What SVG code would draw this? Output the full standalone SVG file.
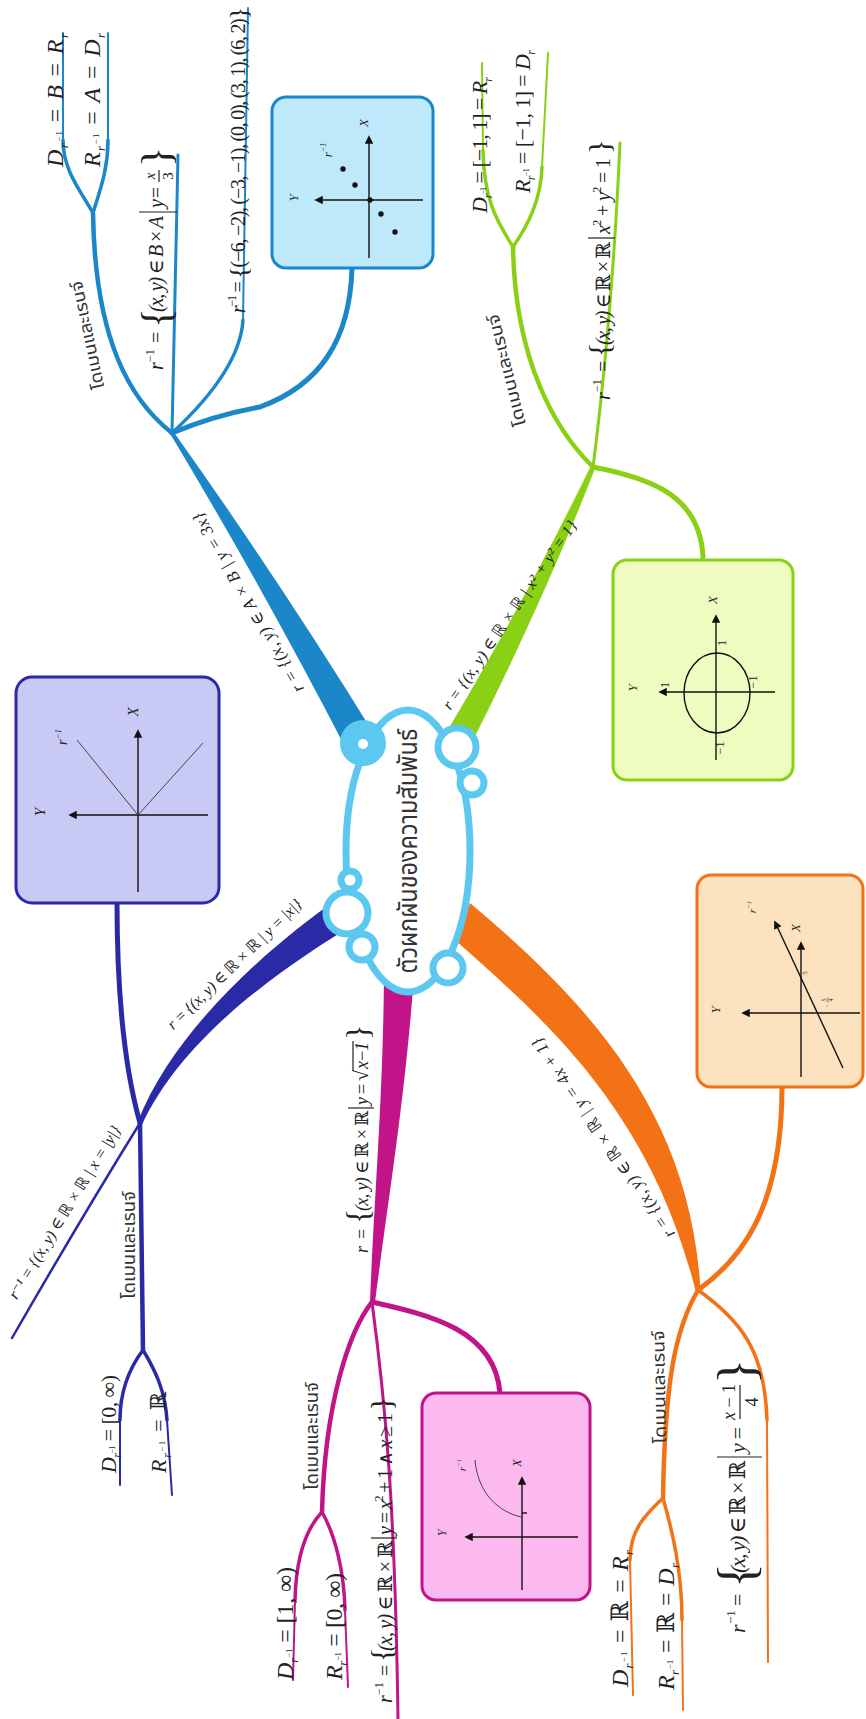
<svg xmlns="http://www.w3.org/2000/svg" width="866" height="1719" viewBox="0 0 866 1719">
<defs>
<style>
.m{font-family:"Liberation Serif","DejaVu Serif","DejaVu Sans",serif;fill:#222}
.i{font-style:italic}
.th{font-family:"Noto Sans Thai","Noto Looped Thai","Loma","Garuda","Tlwg Typo","DejaVu Sans",sans-serif;fill:#333}
.ax{stroke:#111;stroke-width:1.4;fill:none}
.cv{stroke:#444;stroke-width:1;fill:none}
.cn{fill:none;stroke-linecap:round;stroke-linejoin:round}
.bl{stroke:#1b87c9}.gr{stroke:#8ad014}.or{stroke:#f47216}.mg{stroke:#c01488}.ig{stroke:#2a2aa6}
.fr{stroke:#222;stroke-width:1.2}
.ck{fill:#fff;stroke:#5cc8f0;stroke-width:7}
</style>
<marker id="ar" viewBox="0 0 10 10" refX="8" refY="5" markerWidth="6" markerHeight="6" orient="auto"><path d="M0,0L10,5L0,10z" fill="#111"/></marker>
</defs>
<rect width="866" height="1719" fill="#fff"/>

<g id="connectors">
  <!-- blue -->
  <path fill="#1b87c9" d="M375.7,736.7 Q279.8,581.2 173.7,432 L170.3,434 Q264.4,590.5 348.3,753.3Z"/>
  <path class="cn bl" stroke-width="4.5" d="M172,433 C130,400 95,340 93,213"/>
  <path class="cn bl" stroke-width="3.5" d="M93,213 C80,190 63,170 63,140"/>
  <path class="cn bl" stroke-width="2" d="M63,140 L63,33"/>
  <path class="cn bl" stroke-width="3.5" d="M93,213 C100,190 108,170 108,140"/>
  <path class="cn bl" stroke-width="2" d="M108,140 L108,33"/>
  <path class="cn bl" stroke-width="3" d="M172,433 L178,155"/>
  <path class="cn bl" stroke-width="3.5" d="M172,433 Q240,370 243,320"/>
  <path class="cn bl" stroke-width="2" d="M243,320 L248,8"/>
  <path class="cn bl" stroke-width="5" d="M172,433 Q215,415 260,407 C320,385 350,340 352,268"/>
  <!-- green -->
  <path fill="#8ad014" d="M467.5,751.3 Q542.5,603.3 595.2,468.1 L590.8,465.9 Q527.8,595.9 442.5,738.7Z"/>
  <path class="cn gr" stroke-width="4.5" d="M593,467 C555,430 515,360 513,247"/>
  <path class="cn gr" stroke-width="3.5" d="M513,247 C500,225 484,205 483,150"/>
  <path class="cn gr" stroke-width="2" d="M483,150 L482,63"/>
  <path class="cn gr" stroke-width="3.5" d="M513,247 C528,225 541,200 542,167"/>
  <path class="cn gr" stroke-width="2" d="M542,167 L548,53"/>
  <path class="cn gr" stroke-width="3" d="M593,467 Q612,320 620,143"/>
  <path class="cn gr" stroke-width="5" d="M593,467 C650,478 700,495 703,557"/>
  <!-- orange -->
  <path fill="#f47216" d="M455,940 C545,1020 650,1110 695.5,1290.4 L700.5,1289.6 C690,1110 585,1000 470,903Z"/>
  <path class="cn or" stroke-width="5" d="M698,1290 C740,1260 782,1210 782,1087"/>
  <path class="cn or" stroke-width="4.5" d="M698,1290 C675,1330 665,1380 663,1498"/>
  <path class="cn or" stroke-width="3.5" d="M663,1498 C645,1515 630,1530 630,1560"/>
  <path class="cn or" stroke-width="2" d="M630,1560 L633,1695"/>
  <path class="cn or" stroke-width="3.5" d="M663,1498 C672,1530 682,1570 682,1620"/>
  <path class="cn or" stroke-width="2" d="M682,1620 L683,1710"/>
  <path class="cn or" stroke-width="3.5" d="M698,1290 C740,1320 765,1350 767,1420"/>
  <path class="cn or" stroke-width="2" d="M767,1420 L768,1662"/>
  <!-- magenta -->
  <path fill="#c01488" d="M384,975 C383,1100 374,1200 370,1302 L375,1302 C388,1200 405,1100 414,975Z"/>
  <path class="cn mg" stroke-width="5" d="M372,1302 C430,1315 495,1330 500,1393"/>
  <path class="cn mg" stroke-width="4.5" d="M372,1302 C350,1330 325,1400 322,1512"/>
  <path class="cn mg" stroke-width="3.5" d="M322,1512 C305,1530 296,1560 295,1600"/>
  <path class="cn mg" stroke-width="2" d="M295,1600 L293,1680"/>
  <path class="cn mg" stroke-width="3.5" d="M322,1512 C335,1535 344,1570 345,1610"/>
  <path class="cn mg" stroke-width="2" d="M345,1610 L348,1687"/>
  <path class="cn mg" stroke-width="3" d="M372,1302 C385,1400 395,1500 398,1719"/>
  <!-- indigo -->
  <path fill="#2a2aa6" d="M336.7,899.5 C272.8,944.2 174.5,1027.6 137.7,1122 L142.3,1124 C185.5,1032.4 287.2,965.8 353.3,924.5Z"/>
  <path class="cn ig" stroke-width="2.5" d="M140,1123 Q80,1220 12,1338"/>
  <path class="cn ig" stroke-width="5" d="M140,1123 C125,1070 117,1000 117,902"/>
  <path class="cn ig" stroke-width="4.5" d="M140,1123 L143,1350"/>
  <path class="cn ig" stroke-width="3.5" d="M143,1350 C128,1370 120,1395 120,1420"/>
  <path class="cn ig" stroke-width="2" d="M120,1420 L120,1485"/>
  <path class="cn ig" stroke-width="3.5" d="M143,1350 C155,1370 165,1390 167,1420"/>
  <path class="cn ig" stroke-width="2" d="M167,1420 L172,1495"/>
</g>

<!-- branch labels -->
<g id="label-blue-r"><text class="m i" font-size="17" text-anchor="middle" textLength="205" lengthAdjust="spacing" transform="translate(253,600) rotate(-120)">r = {(x, y) ∈ A × B | y = 3x}</text></g>
<g id="label-green-r"><text class="m i" font-size="16" text-anchor="middle" textLength="225" lengthAdjust="spacing" transform="translate(514,618) rotate(-55.6)">r = {(x, y) ∈ ℝ × ℝ | x² + y² = 1}</text></g>
<g id="label-orange-r"><text class="m i" font-size="17" text-anchor="middle" textLength="239" lengthAdjust="spacing" transform="translate(608,1135) rotate(-124.4)">r = {(x, y) ∈ ℝ × ℝ | y = 4x + 1}</text></g>
<g id="label-indigo-r"><text class="m i" font-size="16" text-anchor="middle" textLength="180" lengthAdjust="spacing" transform="translate(238,968) rotate(-44)">r = {(x, y) ∈ ℝ × ℝ | y = |x|}</text></g>
<g id="label-indigo-inv"><text class="m i" font-size="16" text-anchor="middle" textLength="200" lengthAdjust="spacing" transform="translate(69,1215) rotate(-58.5)">r⁻¹ = {(x, y) ∈ ℝ × ℝ | x = |y|}</text></g>

<g id="label-magenta-r" transform="translate(368,1253) rotate(-90)">
  <text class="m i" font-size="18" x="0">r</text>
  <text class="m" font-size="18" x="14">=</text>
  <text class="m" font-size="32" x="29" y="1">{</text>
  <text class="m" font-size="18" x="42" textLength="100" lengthAdjust="spacing"><tspan font-style="italic">(x, y)</tspan> ∈ ℝ × ℝ</text>
  <line class="fr" x1="145" y1="-20" x2="145" y2="6"/>
  <text class="m i" font-size="18" x="148" textLength="22" lengthAdjust="spacing">y =</text>
  <text class="m" font-size="20" x="172">√</text>
  <text class="m i" font-size="18" x="184" textLength="27" lengthAdjust="spacing">x − 1</text>
  <line class="fr" x1="182" y1="-15" x2="212" y2="-15"/>
  <text class="m" font-size="32" x="213" y="1">}</text>
</g>

<!-- Thai labels -->
<g id="dr-blue"><text class="th" font-size="17" text-anchor="middle" textLength="110" lengthAdjust="spacingAndGlyphs" transform="translate(93,334) rotate(-102)">โดเมนและเรนจ์</text></g>
<g id="dr-green"><text class="th" font-size="17" text-anchor="middle" textLength="115" lengthAdjust="spacingAndGlyphs" transform="translate(512,369) rotate(-104)">โดเมนและเรนจ์</text></g>
<g id="dr-orange"><text class="th" font-size="17" text-anchor="middle" textLength="113" lengthAdjust="spacingAndGlyphs" transform="translate(665,1387) rotate(-91)">โดเมนและเรนจ์</text></g>
<g id="dr-magenta"><text class="th" font-size="17" text-anchor="middle" textLength="108" lengthAdjust="spacingAndGlyphs" transform="translate(318,1436) rotate(-90)">โดเมนและเรนจ์</text></g>
<g id="dr-indigo"><text class="th" font-size="17" text-anchor="middle" textLength="108" lengthAdjust="spacingAndGlyphs" transform="translate(135,1245) rotate(-90)">โดเมนและเรนจ์</text></g>

<!-- blue leaves -->
<g id="blue-D" transform="translate(63,167) rotate(-90)"><text class="m i" font-size="24" textLength="134" lengthAdjust="spacing">D<tspan font-size="13" dy="5">r</tspan><tspan font-size="9" dy="-6" font-style="normal">−1</tspan><tspan dy="1" font-style="normal"> = </tspan>B<tspan font-style="normal"> = </tspan>R<tspan font-size="13" dy="5">r</tspan></text></g>
<g id="blue-R" transform="translate(100,167) rotate(-90)"><text class="m i" font-size="24" textLength="134" lengthAdjust="spacing">R<tspan font-size="13" dy="5">r</tspan><tspan font-size="9" dy="-6" font-style="normal">−1</tspan><tspan dy="1" font-style="normal"> = </tspan>A<tspan font-style="normal"> = </tspan>D<tspan font-size="13" dy="5">r</tspan></text></g>
<g id="blue-inv" transform="translate(163,370) rotate(-90)">
  <text class="m i" font-size="20" x="0">r</text>
  <text class="m" font-size="12" x="8" y="-9">−1</text>
  <text class="m" font-size="20" x="27">=</text>
  <text class="m" font-size="42" x="42" y="7">{</text>
  <text class="m" font-size="20" x="58" textLength="96" lengthAdjust="spacing"><tspan font-style="italic">(x, y)</tspan> ∈ <tspan font-style="italic">B</tspan> × <tspan font-style="italic">A</tspan></text>
  <line class="fr" x1="158" y1="-24" x2="158" y2="14"/>
  <text class="m i" font-size="20" x="162" textLength="22" lengthAdjust="spacing">y =</text>
  <text class="m i" font-size="15" x="194" y="-8" text-anchor="middle">x</text>
  <line class="fr" x1="188" y1="-4" x2="200" y2="-4"/>
  <text class="m" font-size="15" x="194" y="10" text-anchor="middle">3</text>
  <text class="m" font-size="42" x="203" y="7">}</text>
</g>
<g id="blue-set" transform="translate(245,313) rotate(-90)"><text class="m" font-size="20" textLength="306" lengthAdjust="spacing"><tspan font-style="italic">r</tspan><tspan font-size="12" dy="-9">−1</tspan><tspan dy="9"> = </tspan><tspan font-size="26" dy="2">{</tspan><tspan dy="-2">(−6, −2), (−3, −1), (0, 0), (3, 1), (6, 2)</tspan><tspan font-size="26" dy="2">}</tspan></text></g>

<!-- green leaves -->
<g id="green-D" transform="translate(487,213) rotate(-90)"><text class="m i" font-size="22" textLength="136" lengthAdjust="spacing">D<tspan font-size="12" dy="5">r</tspan><tspan font-size="8" dy="-6" font-style="normal">−1</tspan><tspan dy="1" font-style="normal"> = [−1, 1] = </tspan>R<tspan font-size="12" dy="5">r</tspan></text></g>
<g id="green-R" transform="translate(530,193) rotate(-90)"><text class="m i" font-size="22" textLength="143" lengthAdjust="spacing">R<tspan font-size="12" dy="5">r</tspan><tspan font-size="8" dy="-6" font-style="normal">−1</tspan><tspan dy="1" font-style="normal"> = [−1, 1] = </tspan>D<tspan font-size="12" dy="5">r</tspan></text></g>
<g id="green-inv" transform="translate(610,400) rotate(-90)">
  <text class="m i" font-size="20" x="0">r</text>
  <text class="m" font-size="12" x="8" y="-9">−1</text>
  <text class="m" font-size="20" x="28">=</text>
  <text class="m" font-size="30" x="43" y="-1">{</text>
  <text class="m" font-size="20" x="55" textLength="103" lengthAdjust="spacing"><tspan font-style="italic">(x, y)</tspan> ∈ ℝ × ℝ</text>
  <line class="fr" x1="162" y1="-22" x2="162" y2="5"/>
  <text class="m" font-size="20" x="166" textLength="76" lengthAdjust="spacing"><tspan font-style="italic">x</tspan><tspan font-size="12" dy="-9">2</tspan><tspan dy="9"> + </tspan><tspan font-style="italic">y</tspan><tspan font-size="12" dy="-9">2</tspan><tspan dy="9"> = 1</tspan></text>
  <text class="m" font-size="30" x="246" y="-1">}</text>
</g>

<!-- orange leaves -->
<g id="orange-D" transform="translate(628,1687) rotate(-90)"><text class="m i" font-size="24" textLength="137" lengthAdjust="spacing">D<tspan font-size="13" dy="5">r</tspan><tspan font-size="9" dy="-6" font-style="normal">−1</tspan><tspan dy="1" font-style="normal"> = ℝ = </tspan>R<tspan font-size="13" dy="5">r</tspan></text></g>
<g id="orange-R" transform="translate(674,1690) rotate(-90)"><text class="m i" font-size="24" textLength="127" lengthAdjust="spacing">R<tspan font-size="13" dy="5">r</tspan><tspan font-size="9" dy="-6" font-style="normal">−1</tspan><tspan dy="1" font-style="normal"> = ℝ = </tspan>D<tspan font-size="13" dy="5">r</tspan></text></g>
<g id="orange-inv" transform="translate(745,1633) rotate(-90)">
  <text class="m i" font-size="22" x="0">r</text>
  <text class="m" font-size="13" x="9" y="-10">−1</text>
  <text class="m" font-size="22" x="27">=</text>
  <text class="m" font-size="52" x="45" y="9">{</text>
  <text class="m" font-size="22" x="60" textLength="112" lengthAdjust="spacing"><tspan font-style="italic">(x, y)</tspan> ∈ ℝ × ℝ</text>
  <line class="fr" x1="176" y1="-28" x2="176" y2="17"/>
  <text class="m i" font-size="22" x="180" textLength="27" lengthAdjust="spacing">y =</text>
  <text class="m" font-size="18" x="231" y="-10" text-anchor="middle"><tspan font-style="italic">x</tspan> − 1</text>
  <line class="fr" x1="214" y1="-5" x2="248" y2="-5"/>
  <text class="m" font-size="18" x="231" y="13" text-anchor="middle">4</text>
  <text class="m" font-size="52" x="249" y="9">}</text>
</g>

<!-- magenta leaves -->
<g id="magenta-D" transform="translate(293,1680) rotate(-90)"><text class="m i" font-size="24" textLength="113" lengthAdjust="spacing">D<tspan font-size="13" dy="5">r</tspan><tspan font-size="9" dy="-6" font-style="normal">−1</tspan><tspan dy="1" font-style="normal"> = [1, ∞)</tspan></text></g>
<g id="magenta-R" transform="translate(342,1680) rotate(-90)"><text class="m i" font-size="24" textLength="107" lengthAdjust="spacing">R<tspan font-size="13" dy="5">r</tspan><tspan font-size="9" dy="-6" font-style="normal">−1</tspan><tspan dy="1" font-style="normal"> = [0, ∞)</tspan></text></g>
<g id="magenta-inv" transform="translate(392,1703) rotate(-90)">
  <text class="m i" font-size="20" x="0">r</text>
  <text class="m" font-size="12" x="8" y="-9">−1</text>
  <text class="m" font-size="20" x="27">=</text>
  <text class="m" font-size="30" x="41" y="-1">{</text>
  <text class="m" font-size="20" x="52" textLength="110" lengthAdjust="spacing"><tspan font-style="italic">(x, y)</tspan> ∈ ℝ × ℝ</text>
  <line class="fr" x1="165" y1="-21" x2="165" y2="5"/>
  <text class="m" font-size="20" x="168" textLength="122" lengthAdjust="spacing"><tspan font-style="italic">y</tspan> = <tspan font-style="italic">x</tspan><tspan font-size="12" dy="-9">2</tspan><tspan dy="9"> + 1 ∧ </tspan><tspan font-style="italic">x</tspan> ≥ 1</text>
  <text class="m" font-size="30" x="292" y="-1">}</text>
</g>

<!-- indigo leaves -->
<g id="indigo-D" transform="translate(116,1473) rotate(-90)"><text class="m i" font-size="22" textLength="98" lengthAdjust="spacing">D<tspan font-size="12" dy="5">r</tspan><tspan font-size="8" dy="-6" font-style="normal">−1</tspan><tspan dy="1" font-style="normal"> = [0, ∞)</tspan></text></g>
<g id="indigo-R" transform="translate(166,1473) rotate(-90)"><text class="m i" font-size="22" textLength="81" lengthAdjust="spacing">R<tspan font-size="12" dy="5">r</tspan><tspan font-size="8" dy="-6" font-style="normal">−1</tspan><tspan dy="1" font-style="normal"> = ℝ</tspan></text></g>

<!-- graph boxes -->
<g id="box-blue">
  <rect x="272" y="97" width="161" height="171" rx="14" fill="#bde9fa" stroke="#1b87c9" stroke-width="3"/>
  <line class="ax" x1="423" y1="200" x2="316" y2="200" marker-end="url(#ar)"/>
  <line class="ax" x1="369" y1="258" x2="369" y2="137" marker-end="url(#ar)"/>
  <g fill="#111"><circle cx="343" cy="169" r="2.7"/><circle cx="355" cy="185" r="2.7"/><circle cx="370" cy="200" r="2.7"/><circle cx="381" cy="214" r="2.7"/><circle cx="395" cy="232" r="2.7"/></g>
  <text class="m i" font-size="13" text-anchor="middle" transform="translate(298,198) rotate(-90)">Y</text>
  <text class="m i" font-size="13" text-anchor="middle" transform="translate(368,123) rotate(-90)">X</text>
  <text class="m i" font-size="13" text-anchor="middle" transform="translate(332,150) rotate(-90)">r<tspan font-size="8" dy="-6">−1</tspan></text>
</g>
<g id="box-green">
  <rect x="613" y="560" width="180" height="220" rx="14" fill="#eefcc0" stroke="#8ad014" stroke-width="3"/>
  <ellipse cx="717" cy="693" rx="33" ry="40" class="ax"/>
  <line class="ax" x1="775" y1="692" x2="660" y2="692" marker-end="url(#ar)"/>
  <line class="ax" x1="716" y1="760" x2="716" y2="616" marker-end="url(#ar)"/>
  <text class="m" font-size="12" text-anchor="middle" transform="translate(726,643) rotate(-90)">1</text>
  <text class="m" font-size="12" text-anchor="middle" transform="translate(669,685) rotate(-90)">1</text>
  <text class="m" font-size="12" text-anchor="middle" transform="translate(757,682) rotate(-90)">−1</text>
  <text class="m" font-size="12" text-anchor="middle" transform="translate(724,748) rotate(-90)">−1</text>
  <text class="m i" font-size="13" text-anchor="middle" transform="translate(637,688) rotate(-90)">Y</text>
  <text class="m i" font-size="13" text-anchor="middle" transform="translate(717,600) rotate(-90)">X</text>
</g>
<g id="box-orange">
  <rect x="697" y="875" width="166" height="212" rx="14" fill="#fde2c0" stroke="#f47216" stroke-width="3"/>
  <line class="ax" x1="860" y1="1013" x2="743" y2="1013" marker-end="url(#ar)"/>
  <line class="ax" x1="801" y1="1077" x2="801" y2="943" marker-end="url(#ar)"/>
  <line class="ax" x1="843" y1="1068" x2="775" y2="922" marker-end="url(#ar)"/>
  <text class="m i" font-size="13" text-anchor="middle" transform="translate(720,1010) rotate(-90)">Y</text>
  <text class="m i" font-size="13" text-anchor="middle" transform="translate(800,928) rotate(-90)">X</text>
  <text class="m i" font-size="11" text-anchor="middle" transform="translate(756,907) rotate(-90)">r<tspan font-size="7" dy="-5">−1</tspan></text>
  <text class="m" font-size="7" text-anchor="middle" transform="translate(807,973) rotate(-90)">5</text>
  <g transform="translate(828,1000) rotate(-90)">
    <text class="m" font-size="6" x="-6" y="1" text-anchor="middle">−</text>
    <text class="m" font-size="6" x="0" y="-2" text-anchor="middle">5</text>
    <line x1="-2.5" y1="0" x2="2.5" y2="0" stroke="#222" stroke-width="0.6"/>
    <text class="m" font-size="6" x="0" y="5" text-anchor="middle">4</text>
  </g>
</g>
<g id="box-pink">
  <rect x="422" y="1393" width="168" height="207" rx="14" fill="#fcb9f0" stroke="#c01488" stroke-width="3"/>
  <line class="ax" x1="578" y1="1537" x2="466" y2="1537" marker-end="url(#ar)"/>
  <line class="ax" x1="522" y1="1590" x2="522" y2="1478" marker-end="url(#ar)"/>
  <path class="cv" d="M521,1517 C500,1512 478,1495 475,1460"/>
  <line class="ax" x1="522" y1="1513" x2="527" y2="1513"/>
  <text class="m i" font-size="12" text-anchor="middle" transform="translate(446,1533) rotate(-90)">Y</text>
  <text class="m i" font-size="12" text-anchor="middle" transform="translate(521,1463) rotate(-90)">X</text>
  <text class="m i" font-size="11" text-anchor="middle" transform="translate(466,1465) rotate(-90)">r<tspan font-size="7" dy="-5">−1</tspan></text>
</g>
<g id="box-indigo">
  <rect x="16" y="677" width="203" height="226" rx="16" fill="#c9c9f6" stroke="#2a2aa6" stroke-width="3"/>
  <line class="ax" x1="208" y1="815" x2="70" y2="815" marker-end="url(#ar)"/>
  <line class="ax" x1="138" y1="892" x2="138" y2="731" marker-end="url(#ar)"/>
  <line class="cv" x1="138" y1="815" x2="77" y2="740"/>
  <line class="cv" x1="138" y1="815" x2="203" y2="743"/>
  <text class="m i" font-size="15" text-anchor="middle" transform="translate(45,812) rotate(-90)">Y</text>
  <text class="m i" font-size="15" text-anchor="middle" transform="translate(138,712) rotate(-90)">X</text>
  <text class="m i" font-size="14" text-anchor="middle" transform="translate(67,737) rotate(-90)">r<tspan font-size="9" dy="-6">−1</tspan></text>
</g>

<!-- central node -->
<g id="center">
  <ellipse cx="408" cy="851" rx="62" ry="141" class="ck" stroke-width="8"/>
  <circle cx="363" cy="743" r="20" fill="#5cc8f0" stroke="#5cc8f0" stroke-width="6"/>
  <circle cx="363" cy="744" r="5" fill="#fff"/>
  <circle cx="457" cy="747" r="19" class="ck"/>
  <circle cx="472" cy="783" r="12" class="ck"/>
  <circle cx="347" cy="913" r="21" class="ck"/>
  <circle cx="350" cy="880" r="9" class="ck"/>
  <circle cx="362" cy="947" r="13" class="ck"/>
  <circle cx="448" cy="968" r="15" class="ck"/>
  <text class="th" font-size="26" text-anchor="middle" textLength="245" lengthAdjust="spacingAndGlyphs" transform="translate(417,851) rotate(-90)">ตัวผกผันของความสัมพันธ์</text>
</g>
</svg>
